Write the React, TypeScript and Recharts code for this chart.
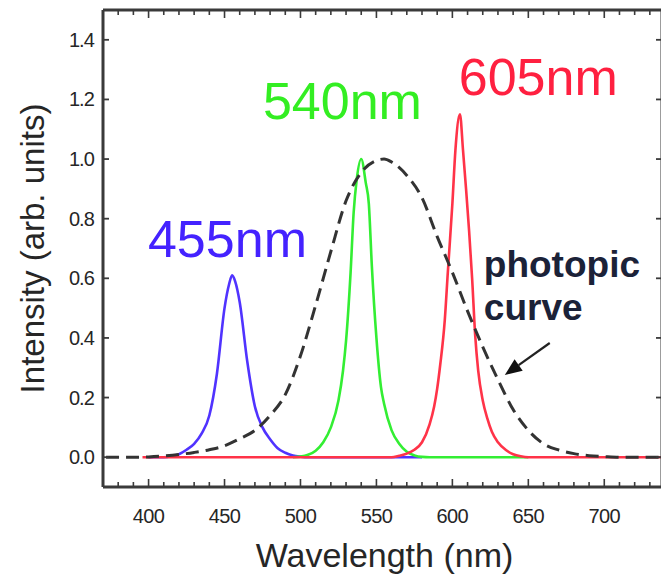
import React from "react";
import { LineChart, Line, XAxis, YAxis, ReferenceDot, ReferenceLine } from "recharts";

// ---- data ----
const blueWl = [400, 410, 415, 420, 425, 430, 435, 440, 445, 450, 453, 455, 457, 460, 465, 470, 475, 480, 485, 490, 495, 500, 505, 580];
const blueVal = [0, 0, 0.003, 0.01, 0.025, 0.045, 0.08, 0.14, 0.28, 0.5, 0.58, 0.61, 0.59, 0.52, 0.32, 0.17, 0.1, 0.06, 0.03, 0.015, 0.006, 0.002, 0, 0];

const greenWl = [495, 500, 505, 510, 515, 520, 525, 528, 530, 533, 535, 537, 540, 543, 545, 547, 550, 553, 555, 560, 565, 570, 575, 580, 585, 650];
const greenVal = [0, 0.002, 0.008, 0.022, 0.05, 0.1, 0.19, 0.29, 0.39, 0.62, 0.82, 0.93, 1.0, 0.92, 0.85, 0.64, 0.4, 0.235, 0.18, 0.09, 0.045, 0.018, 0.006, 0.001, 0, 0];

const redWl = [396, 560, 565, 570, 575, 580, 585, 588, 590, 592, 595, 597, 600, 602, 605, 607, 609, 611, 613, 615, 617, 620, 623, 626, 630, 635, 640, 645, 650, 738];
const redVal = [0, 0, 0.005, 0.012, 0.025, 0.05, 0.11, 0.17, 0.23, 0.31, 0.46, 0.62, 0.85, 1.03, 1.15, 1.03, 0.9, 0.76, 0.6, 0.41, 0.29, 0.19, 0.13, 0.085, 0.05, 0.025, 0.01, 0.003, 0, 0];

const photoWl = [372, 380, 390, 400, 410, 420, 430, 440, 450, 460, 470, 480, 490, 500, 510, 520, 530, 540, 550, 555, 560, 570, 580, 590, 600, 610, 620, 630, 640, 650, 660, 670, 680, 690, 700, 710, 738];
const photoVal = [0, 0, 0, 0.001, 0.004, 0.009, 0.016, 0.025, 0.038, 0.062, 0.09, 0.14, 0.21, 0.34, 0.51, 0.69, 0.86, 0.955, 0.995, 1.0, 0.99, 0.945, 0.87, 0.74, 0.62, 0.49, 0.37, 0.26, 0.16, 0.09, 0.045, 0.024, 0.012, 0.005, 0.002, 0, 0];

const xTicks = [380, 390, 400, 410, 420, 430, 440, 450, 460, 470, 480, 490, 500, 510, 520, 530, 540, 550, 560, 570, 580, 590, 600, 610, 620, 630, 640, 650, 660, 670, 680, 690, 700, 710, 720, 730];
const xMajor = [400, 450, 500, 550, 600, 650, 700];
const yTicks = [0, 0.2, 0.4, 0.6, 0.8, 1.0, 1.2, 1.4];

const peakLabels = ["455nm", "540nm", "605nm"];
const peakLabelX = [399.6, 475.3, 604.2];
const peakLabelY = [0.672, 1.136, 1.215];
const peakColors = ["#4422ff", "#33ee22", "#ff2040"];

const noteLines = ["photopic", "curve"];
const noteX = [620.7, 620.7];
const noteY = [0.6045, 0.46];
const arrowFrom = { x: 664.1, y: 0.383 };
const arrowTo = { x: 634.5, y: 0.276 };

const zip = (w: number[], v: number[]) => w.map((x, i) => ({ w: x, v: v[i] }));
const blueData = zip(blueWl, blueVal);
const greenData = zip(greenWl, greenVal);
const redData = zip(redWl, redVal);
const photoData = zip(photoWl, photoVal);

const FONT = "'Liberation Sans', Arial, sans-serif";
const FRAME = "#3a3a3a";
const TXT = "#262626";

const BottomTick = (p: any) => {
  const v = p.payload.value;
  const major = xMajor.includes(v);
  return (
    <g>
      <line x1={p.x} y1={p.y} x2={p.x} y2={p.y - (major ? 8 : 5)} stroke={FRAME} strokeWidth={1.6} />
      {major && (
        <text x={p.x} y={p.y + 36} textAnchor="middle" fontFamily={FONT} fontSize={20} fill={TXT} letterSpacing={-0.6}>
          {v}
        </text>
      )}
    </g>
  );
};

const TopTick = (p: any) => {
  const v = p.payload.value;
  const major = xMajor.includes(v);
  return <line x1={p.x} y1={p.y} x2={p.x} y2={p.y + (major ? 8 : 5)} stroke={FRAME} strokeWidth={1.6} />;
};

const LeftTick = (p: any) => {
  const v = p.payload.value;
  return (
    <g>
      <line x1={p.x} y1={p.y} x2={p.x + 6} y2={p.y} stroke={FRAME} strokeWidth={1.8} />
      <text x={p.x - 9} y={p.y + 7} textAnchor="end" fontFamily={FONT} fontSize={20} fill={TXT} letterSpacing={-0.9}>
        {Number(v).toFixed(1)}
      </text>
    </g>
  );
};

const RightTick = (p: any) => (
  <line x1={p.x} y1={p.y} x2={p.x - 6} y2={p.y} stroke={FRAME} strokeWidth={1.8} />
);

const XTitle = (p: any) => {
  const vb = p.viewBox || {};
  return (
    <text x={vb.x + vb.width / 2 + 2} y={vb.y + 80} textAnchor="middle" fontFamily={FONT} fontSize={34} fill={TXT}>
      Wavelength (nm)
    </text>
  );
};

const YTitle = (p: any) => {
  const vb = p.viewBox || {};
  const cx = vb.x + 1;
  const cy = 248.5;
  return (
    <text x={cx} y={cy} transform={`rotate(-90 ${cx} ${cy})`} textAnchor="middle" fontFamily={FONT} fontSize={33} fill={TXT}>
      Intensity (arb. units)
    </text>
  );
};

const makeTextShape = (label: string, color: string, size: number, bold: boolean) => (p: any) => (
  <text x={p.cx} y={p.cy} textAnchor="start" fontFamily={FONT} fontSize={size} fontWeight={bold ? 700 : 400} fill={color}>
    {label}
  </text>
);

const ArrowShape = (p: any) => {
  const { x1, y1, x2, y2 } = p;
  const dx = x2 - x1;
  const dy = y2 - y1;
  const len = Math.sqrt(dx * dx + dy * dy) || 1;
  const ux = dx / len;
  const uy = dy / len;
  const head = 17;
  const half = 7;
  const bx = x2 - ux * head;
  const by = y2 - uy * head;
  const pts = `${x2},${y2} ${bx - uy * half},${by + ux * half} ${bx + uy * half},${by - ux * half}`;
  return (
    <g>
      <line x1={x1} y1={y1} x2={bx} y2={by} stroke="#222" strokeWidth={2.2} />
      <polygon points={pts} fill="#111" />
    </g>
  );
};

export default function App() {
  return (
    <div style={{ position: "fixed", left: 0, top: 0, width: 661, height: 577, overflow: "hidden", background: "#fff" }}>
      <LineChart width={680} height={577} margin={{ top: 9, right: 17, bottom: 0, left: 43 }}>
        <XAxis
          dataKey="w"
          type="number"
          domain={[370, 738]}
          ticks={xTicks}
          interval={0}
          height={90}
          tickSize={0}
          tickMargin={0}
          tickLine={false}
          tick={BottomTick}
          axisLine={{ stroke: FRAME, strokeWidth: 3 }}
          allowDataOverflow
          label={XTitle}
        />
        <XAxis
          xAxisId="top"
          orientation="top"
          dataKey="w"
          type="number"
          domain={[370, 738]}
          ticks={xTicks}
          interval={0}
          height={1}
          tickSize={0}
          tickMargin={0}
          tickLine={false}
          tick={TopTick}
          axisLine={{ stroke: FRAME, strokeWidth: 3 }}
          allowDataOverflow
        />
        <YAxis
          type="number"
          domain={[-0.1, 1.5]}
          ticks={yTicks}
          interval={0}
          width={60}
          tickSize={0}
          tickMargin={0}
          tickLine={false}
          tick={LeftTick}
          axisLine={{ stroke: FRAME, strokeWidth: 3 }}
          allowDataOverflow
          label={YTitle}
        />
        <YAxis
          yAxisId="right"
          orientation="right"
          type="number"
          domain={[-0.1, 1.5]}
          ticks={yTicks}
          interval={0}
          width={1}
          tickSize={0}
          tickMargin={0}
          tickLine={false}
          tick={RightTick}
          axisLine={{ stroke: FRAME, strokeWidth: 3 }}
          allowDataOverflow
        />
        <Line data={blueData} dataKey="v" type="monotone" stroke="#5033ff" strokeWidth={2.6} dot={false} isAnimationActive={false} />
        <Line data={greenData} dataKey="v" type="monotone" stroke="#33ee33" strokeWidth={2.6} dot={false} isAnimationActive={false} />
        <Line data={redData} dataKey="v" type="monotone" stroke="#ff3348" strokeWidth={2.6} dot={false} isAnimationActive={false} />
        <Line data={photoData} dataKey="v" type="monotone" stroke="#333" strokeWidth={3} strokeDasharray="13 7" dot={false} isAnimationActive={false} />
        {peakLabels.map((t, i) => (
          <ReferenceDot key={t} x={peakLabelX[i]} y={peakLabelY[i]} r={0} shape={makeTextShape(t, peakColors[i], 52, false)} />
        ))}
        {noteLines.map((t, i) => (
          <ReferenceDot key={t} x={noteX[i]} y={noteY[i]} r={0} shape={makeTextShape(t, "#1b2238", 37, true)} />
        ))}
        <ReferenceLine segment={[arrowFrom, arrowTo]} shape={ArrowShape} />
      </LineChart>
    </div>
  );
}
